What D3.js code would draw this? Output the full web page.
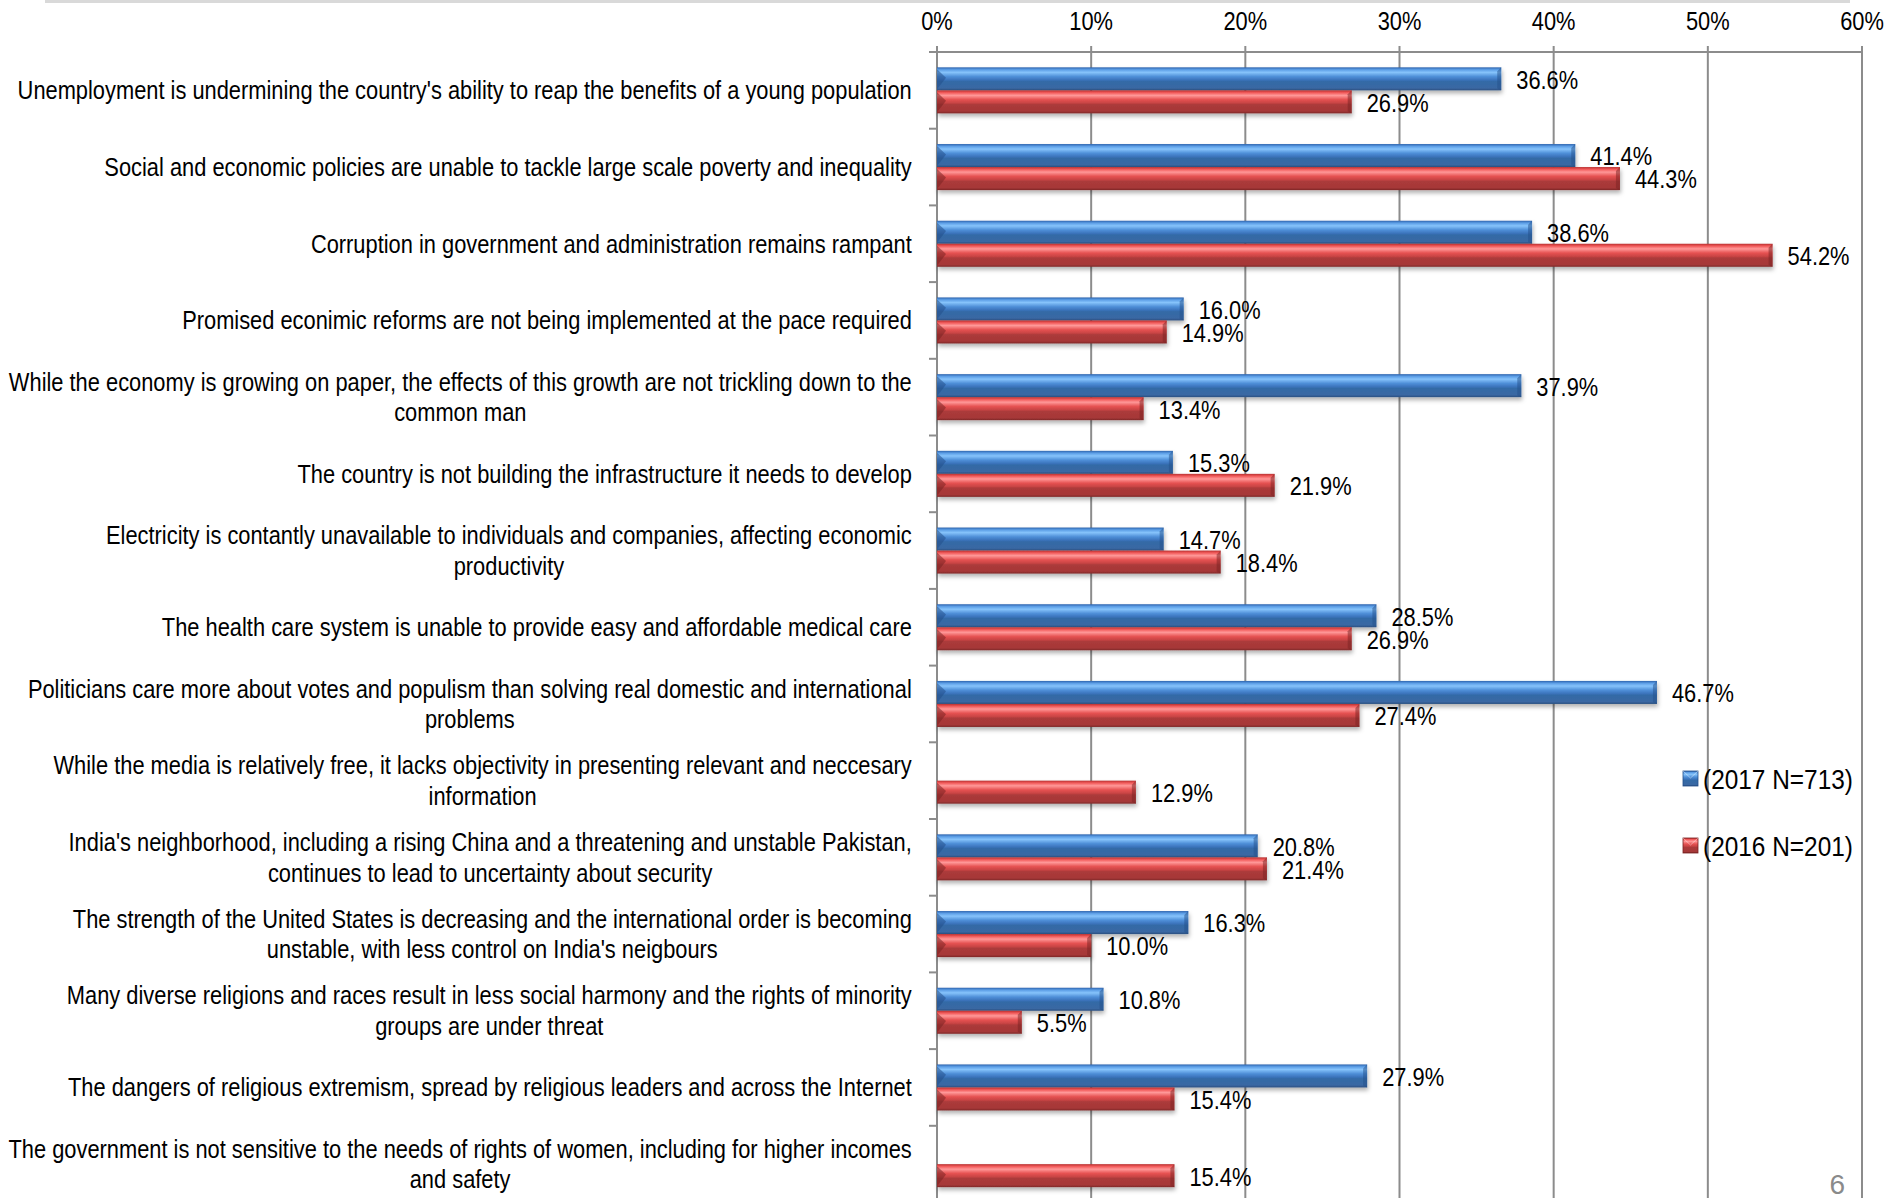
<!DOCTYPE html>
<html><head><meta charset="utf-8">
<script src="https://cdn.jsdelivr.net/npm/d3@7/dist/d3.min.js"></script>
<style>
html,body{margin:0;padding:0;background:#fff;}
svg{display:block;}
text{font-family:"Liberation Sans",Arial,sans-serif;fill:#000;}
</style></head><body>
<svg id="chart" width="1891" height="1198"></svg>
<script>
const categories = [
  ["Unemployment is undermining the country's ability to reap the benefits of a young population"],
  ["Social and economic policies are unable to tackle large scale poverty and inequality"],
  ["Corruption in government and administration remains rampant"],
  ["Promised econimic reforms are not being implemented at the pace required"],
  ["While the economy is growing on paper, the effects of this growth are not trickling down to the", "common man"],
  ["The country is not building the infrastructure it needs to develop"],
  ["Electricity is contantly unavailable to individuals and companies, affecting economic", "productivity"],
  ["The health care system is unable to provide easy and affordable medical care"],
  ["Politicians care more about votes and populism than solving real domestic and international", "problems"],
  ["While the media is relatively free, it lacks objectivity in presenting relevant and neccesary", "information"],
  ["India's neighborhood, including a rising China and a threatening and unstable Pakistan,", "continues to lead to uncertainty about security"],
  ["The strength of the United States is decreasing and the international order is becoming", "unstable, with less control on India's neigbours"],
  ["Many diverse religions and races result in less social harmony and the rights of minority", "groups are under threat"],
  ["The dangers of religious extremism, spread by religious leaders and across the Internet"],
  ["The government is not sensitive to the needs of rights of women, including for higher incomes", "and safety"]
];
const seriesNames = ["(2017 N=713)", "(2016 N=201)"];
const values2017 = [36.6, 41.4, 38.6, 16.0, 37.9, 15.3, 14.7, 28.5, 46.7, null, 20.8, 16.3, 10.8, 27.9, null];
const values2016 = [26.9, 44.3, 54.2, 14.9, 13.4, 21.9, 18.4, 26.9, 27.4, 12.9, 21.4, 10.0, 5.5, 15.4, 15.4];
const tickValues = [0, 10, 20, 30, 40, 50, 60];
const pageNumber = "6";

const NARROW = 0.857;  // emulate Arial Narrow
const FS = 25.5;
const svg = d3.select("#chart");
const x0 = 937, x1 = 1862, plotTop = 52, step = 76.7;
const x = d3.scaleLinear().domain([0, 60]).range([x0, x1]);
const idx = d3.range(categories.length);
const y = d3.scaleBand().domain(idx).range([plotTop, plotTop + step * categories.length]).paddingInner(0.4).paddingOuter(0.2);
const ySub = d3.scaleBand().domain([0, 1]).range([0, y.bandwidth()]);
const at = (px, py) => `translate(${px},${py}) scale(${NARROW},1)`;

// gradients & filters
const defs = svg.append("defs");
function grad(id, stops) {
  const g = defs.append("linearGradient").attr("id", id).attr("x1", 0).attr("y1", 0).attr("x2", 0).attr("y2", 1);
  stops.forEach(s => g.append("stop").attr("offset", s[0]).attr("stop-color", s[1]));
}
grad("gBlue", [[0, "#2d63ad"], [0.1, "#5c9ee6"], [0.22, "#86c3fb"], [0.4, "#4f8fd8"], [0.55, "#3b73bb"], [0.62, "#336aa6"], [0.9, "#3a68a3"], [1, "#2a4f80"]]);
grad("gRed", [[0, "#b83030"], [0.1, "#f25a5a"], [0.22, "#ff9898"], [0.4, "#e65252"], [0.55, "#c84444"], [0.62, "#ab3a3a"], [0.9, "#a63838"], [1, "#7e2828"]]);
const f = defs.append("filter").attr("id", "shadow").attr("x", "-5%").attr("y", "-30%").attr("width", "110%").attr("height", "180%");
f.append("feDropShadow").attr("dx", 1).attr("dy", 3).attr("stdDeviation", 2).attr("flood-color", "#000").attr("flood-opacity", 0.3);

// top decorative line
svg.append("rect").attr("x", 45).attr("y", 0).attr("width", 1805).attr("height", 3).attr("fill", "#d9d9d9");

// gridlines
const grid = "#8c8c8c";
svg.append("g").selectAll("line").data(tickValues).join("line")
  .attr("x1", d => x(d)).attr("x2", d => x(d))
  .attr("y1", plotTop - 6).attr("y2", 1198)
  .attr("stroke", grid).attr("stroke-width", 2);
svg.append("line").attr("x1", x0 - 7).attr("x2", x1).attr("y1", plotTop).attr("y2", plotTop).attr("stroke", grid).attr("stroke-width", 2);
svg.append("g").selectAll("line").data(d3.range(categories.length + 1)).join("line")
  .attr("x1", x0 - 8).attr("x2", x0)
  .attr("y1", d => plotTop + d * step).attr("y2", d => plotTop + d * step)
  .attr("stroke", grid).attr("stroke-width", 2);

// tick labels
svg.append("g").selectAll("text").data(tickValues).join("text")
  .attr("transform", d => at(x(d), 21)).attr("dy", "0.35em")
  .attr("text-anchor", "middle").attr("font-size", FS)
  .text(d => d + "%");

// category labels
const labelRight = 912;
const lg = svg.append("g");
categories.forEach((lines, i) => {
  const cy = y(i) + y.bandwidth() / 2;
  const lh = 30.5;
  const g = lg.append("g");
  const ts = lines.map((ln, j) => g.append("text").attr("font-size", FS).attr("text-anchor", "middle")
      .attr("dy", "0.35em").text(ln));
  const w = d3.max(ts, t => t.node().getComputedTextLength()) * NARROW;
  ts.forEach((t, j) => t.attr("transform", at(labelRight - w / 2, cy + (j - (lines.length - 1) / 2) * lh)));
});

// bars
const series = [
  {name: seriesNames[0], values: values2017, fill: "url(#gBlue)", cap: "#234f8a"},
  {name: seriesNames[1], values: values2016, fill: "url(#gRed)", cap: "#7a2222"}
];
series.forEach((s, si) => {
  const data = idx.filter(i => s.values[i] != null).map(i => ({i, v: s.values[i]}));
  const g = svg.append("g");
  const bar = g.selectAll("g").data(data).join("g");
  const by = d => y(d.i) + ySub(si);
  const bh = ySub.bandwidth();
  bar.append("rect").attr("x", x(0)).attr("y", by).attr("width", d => x(d.v) - x(0)).attr("height", bh)
    .attr("fill", s.fill).attr("filter", "url(#shadow)");
  bar.append("path").attr("d", d => {
    const yy = by(d);
    return `M${x(0)},${yy + 2}L${x(0) + 9},${yy + bh * 0.45}L${x(0)},${yy + bh - 1}Z`;
  }).attr("fill", s.cap).attr("opacity", 0.55);
  bar.append("path").attr("d", d => {
    const yy = by(d), xe = x(d.v);
    return `M${xe},${yy}L${xe - 4},${yy + 4}L${xe - 4},${yy + bh - 2}L${xe},${yy + bh}Z`;
  }).attr("fill", s.cap).attr("opacity", 0.5);
  g.selectAll("text").data(data).join("text")
    .attr("transform", d => at(x(d.v) + 15, by(d) + bh / 2 + 1)).attr("dy", "0.35em")
    .attr("font-size", FS).text(d => d.v.toFixed(1) + "%");
});

// legend
const legY = [778, 845];
const leg = svg.append("g");
series.forEach((s, si) => {
  const gy = legY[si];
  leg.append("rect").attr("x", 1683).attr("y", gy - 7).attr("width", 15).attr("height", 15)
    .attr("fill", s.fill).attr("stroke", s.cap).attr("stroke-width", 0.8);
  leg.append("path").attr("d", `M1683,${gy - 7}L1690.5,${gy}L1698,${gy - 7}`).attr("fill", "none").attr("stroke", "#fff").attr("stroke-opacity", 0.4);
  leg.append("text").attr("transform", at(1703, gy + 1)).attr("dy", "0.35em").attr("font-size", 28.5).text(s.name);
});

// page number
svg.append("text").attr("x", 1845).attr("y", 1184).attr("dy", "0.35em").attr("text-anchor", "end")
  .attr("font-size", 28).style("fill", "#8a8a8a").text(pageNumber);
</script>
</body></html>
